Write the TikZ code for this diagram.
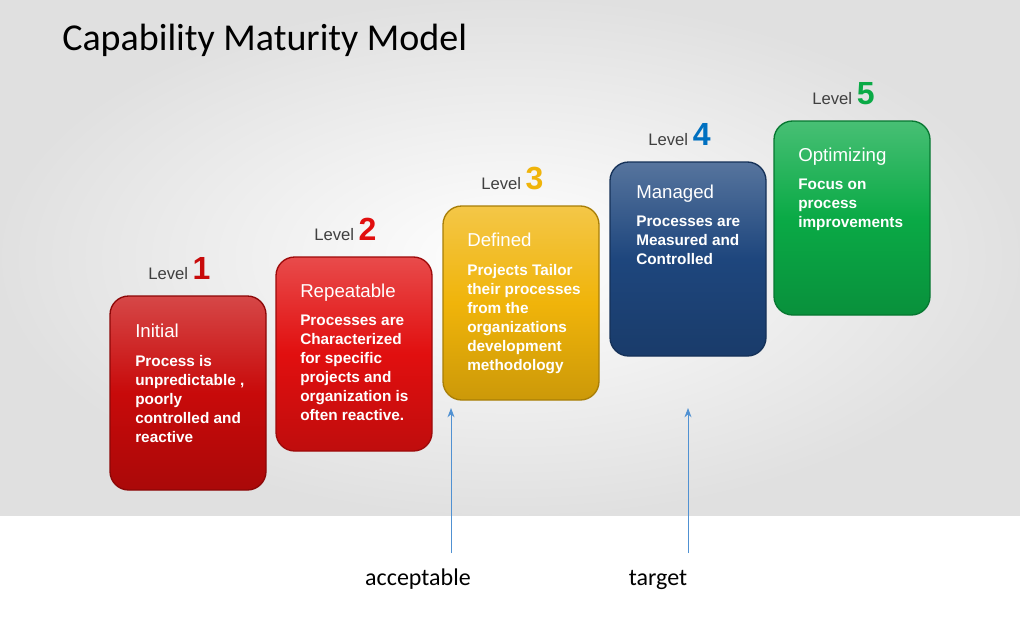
\documentclass[tikz,border=0pt]{standalone}
\usepackage{fontspec}
\usetikzlibrary{arrows.meta}
\setmainfont{Liberation Sans}
\newfontfamily\carlitofont{Carlito}
\begin{document}
\begin{tikzpicture}[x=0.75pt,y=-0.75pt,
  box/.style={rounded corners=14pt,draw=#1!70!black,line width=1pt},
  ttl/.style={anchor=north west,text=white,font=\fontsize{14}{16}\selectfont,inner sep=0pt},
  body/.style={anchor=north west,text=white,align=left,font=\bfseries\fontsize{11.5}{14.2}\selectfont,inner sep=0pt},
  lvl/.style={anchor=base west,inner sep=0pt,font=\fontsize{12.5}{14}\selectfont,text=black!75},
  arr/.style={draw={rgb,255:red,80;green,145;blue,210},line width=0.7pt,-{Stealth[length=7pt]}}]
\useasboundingbox (0,0) rectangle (1020,635);
\shade[inner color=white,outer color=black!12] (0,0) rectangle (1020,515);
\node[anchor=west,inner sep=0pt,font=\carlitofont\fontsize{28.5}{30}\selectfont] (title) at (62,40) {Capability Maturity Model};
\definecolor{c1}{RGB}{200,10,10}\definecolor{c2}{RGB}{225,15,15}
\definecolor{c3}{RGB}{240,180,10}\definecolor{c4}{RGB}{30,70,125}\definecolor{c5}{RGB}{10,170,70}
\definecolor{n4}{RGB}{0,112,192}
\foreach \n/\x/\y/\c/\nc in {1/110/296/c1/c1,2/276/257/c2/c2,3/443/206/c3/c3,4/610/162/c4/n4,5/774/121/c5/c5}{
  \shade[box=\c,top color=\c!75!white,bottom color=\c!85!black,middle color=\c] (\x,\y) rectangle +(156,194);
  \coordinate (b\n) at (\x,\y);
  \node[lvl] (l\n) at (\x+38,\y-17) {Level \textcolor{\nc}{\bfseries\fontsize{24}{26}\selectfont\n}};
}
\node[ttl] (t1) at (135,324) {Initial};
\node[body] (d1) at (135,355) {Process is\\unpredictable ,\\poorly\\controlled and\\reactive};
\node[ttl] (t2) at (300,284) {Repeatable};
\node[body] (d2) at (300,315) {Processes are\\Characterized\\for specific\\projects and\\organization is\\often reactive.};
\node[ttl] (t3) at (467,233) {Defined};
\node[body] (d3) at (467,264) {Projects Tailor\\their processes\\from the\\organizations\\development\\methodology};
\node[ttl] (t4) at (636,185) {Managed};
\node[body] (d4) at (636,216) {Processes are\\Measured and\\Controlled};
\node[ttl] (t5) at (798,148) {Optimizing};
\node[body] (d5) at (798,179) {Focus on\\process\\improvements};
\node[font=\carlitofont\fontsize{18}{20}\selectfont] (acc) at (418,579) {acceptable};
\node[font=\carlitofont\fontsize{18}{20}\selectfont] (tgt) at (658,580) {target};
\coordinate (a1) at (451,553); \coordinate (a2) at (451,408);
\coordinate (a3) at (688,553); \coordinate (a4) at (688,408);
\draw[arr] (a1) -- (a2);
\draw[arr] (a3) -- (a4);
\end{tikzpicture}
\end{document}
